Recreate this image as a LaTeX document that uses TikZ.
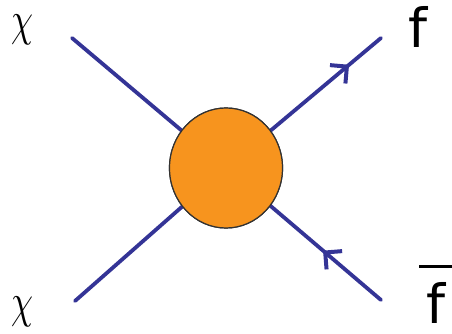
\documentclass[tikz,border=0pt]{standalone}
\usepackage{fontspec}
\newfontfamily\lblfont{DejaVu Sans}
\usetikzlibrary{shapes.geometric,decorations.markings}
\definecolor{lineblue}{RGB}{52,52,150}
\definecolor{blobfill}{RGB}{247,148,30}
\definecolor{blobdraw}{RGB}{50,50,50}
\tikzset{
  x=1pt,y=1pt,
  fline/.style={lineblue,line width=3.8pt,line cap=round},
  blobnode/.style={ellipse,draw=blobdraw,line width=1.2pt,fill=blobfill,minimum width=113pt,minimum height=120pt,inner sep=0pt},
  midarrow/.style={postaction={decorate},decoration={markings,mark=at position #1 with {\draw[lineblue,line width=4pt,line cap=butt,line join=miter] (-12pt,12pt) -- (0pt,0pt) -- (-12pt,-12pt);}}},
  chilabel/.style={inner sep=0pt},
  flabel/.style={font=\lblfont\fontsize{54}{54}\selectfont,inner sep=0pt}
}
\begin{document}
\begin{tikzpicture}
\useasboundingbox (0,0) rectangle (452,334);
\node[blobnode] (blob) at (226,166) {};
\coordinate (a) at (72,296);
\coordinate (b) at (75,33);
\coordinate (c) at (381,296);
\coordinate (d) at (381,34);
\draw[fline] (a) -- (blob.center);
\draw[fline] (b) -- (blob.center);
\draw[fline,midarrow=0.78] (blob.center) -- (c);
\draw[fline,midarrow=0.36] (d) -- (blob.center);
\node[blobnode] at (blob.center) {};
\node[chilabel] (chi1) at (22,304) {\scalebox{3.5}[4.8]{$\chi$}};
\node[chilabel] (chi2) at (22,22) {\scalebox{3.5}[4.8]{$\chi$}};
\node[flabel,anchor=base] (f1) at (418,286) {f};
\node[flabel,anchor=base] (f2) at (435.5,10) {\vbox{\hrule height 3pt width 33pt\vskip 15pt\hbox to 33pt{\hss f\hss}}};
\end{tikzpicture}
\end{document}
